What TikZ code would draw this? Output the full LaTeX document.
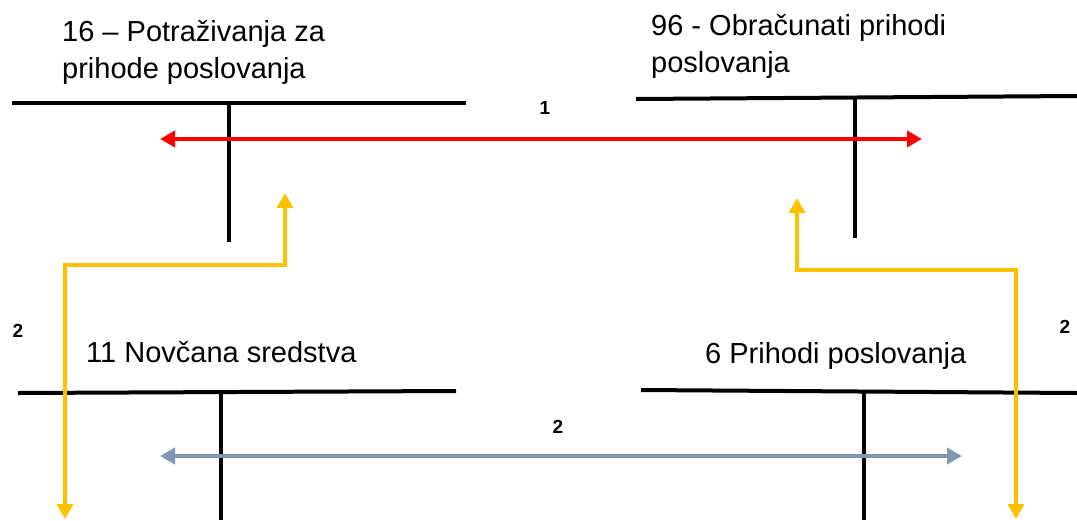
\documentclass[tikz,border=0pt]{standalone}
\usepackage{fontspec}
\setmainfont{Liberation Sans}
\usetikzlibrary{arrows.meta}
\definecolor{myyellow}{HTML}{FFC000}
\definecolor{myred}{HTML}{FF0000}
\definecolor{mygray}{HTML}{8497B0}
\begin{document}
\begin{tikzpicture}[x=1pt,y=-1pt,
  tline/.style={line width=4pt,black},
  title/.style={anchor=west,font=\fontsize{29}{37}\selectfont,align=left,inner sep=0pt},
  num/.style={font=\bfseries\fontsize{19}{22}\selectfont,inner sep=0pt},
  dtip/.style={{Triangle[length=15pt,width=16pt]}-{Triangle[length=15pt,width=16pt]}},
  redarrow/.style={dtip,line width=4pt,myred},
  grayarrow/.style={dtip,line width=4pt,mygray},
  yelarrow/.style={dtip,line width=3.5pt,myyellow}]
\useasboundingbox (0,0) rectangle (1077,520);
% T-accounts
\draw[tline] (12,103) -- (466,103);
\draw[tline] (229,103) -- (229,242);
\draw[tline] (636,99) -- (1077,96);
\draw[tline] (855,98) -- (855,238);
\draw[tline] (18,393) -- (456,391);
\draw[tline] (221,392) -- (221,520);
\draw[tline] (641,390) -- (1077,393);
\draw[tline] (864,392) -- (864,520);
% titles
\node[title] (t16) at (62,52) {16 – Potraživanja za\\prihode poslovanja};
\node[title] (t96) at (651,46) {96 - Obračunati prihodi\\poslovanja};
\node[title] (t11) at (86,352) {11 Novčana sredstva};
\node[title] (t6) at (705,356) {6 Prihodi poslovanja};
% labels
\node[num] (n1) at (545,108) {1};
\node[num] (n2a) at (18,331) {2};
\node[num] (n2b) at (1065,327) {2};
\node[num] (n2c) at (558,427) {2};
% coordinates
\coordinate (r1) at (160,139);
\coordinate (r2) at (922,139);
\coordinate (g1) at (160,456);
\coordinate (g2) at (962,456);
\coordinate (ya) at (285,193);
\coordinate (yb) at (65,519);
\coordinate (yc) at (797,198);
\coordinate (yd) at (1016,519);
% arrows
\draw[redarrow] (r1) -- (r2);
\draw[grayarrow] (g1) -- (g2);
\draw[yelarrow] (ya) -- (285,265) -- (65,265) -- (yb);
\draw[yelarrow] (yc) -- (797,270) -- (1016,270) -- (yd);
\end{tikzpicture}
\end{document}
